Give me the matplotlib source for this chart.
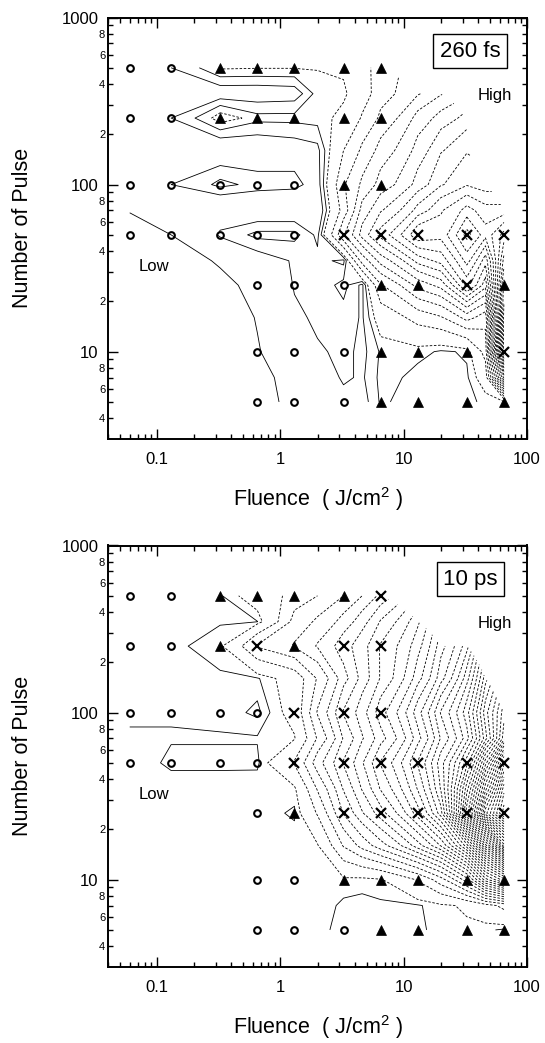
import numpy as np
import matplotlib.pyplot as plt

plt.rcParams['font.family'] = ['Liberation Sans', 'DejaVu Sans']
plt.rcParams['mathtext.fontset'] = 'custom'
plt.rcParams['mathtext.rm'] = 'Liberation Sans'

# measured points: fluence (J/cm2) and number of pulses
fluence = [0.06, 0.13, 0.325, 0.65, 1.3, 3.25, 6.5, 13, 32.5, 65]
pulses = [500, 250, 100, 50, 25, 10, 5]

# o = no damage, ^ = damage, x = crater ; '.' = not measured
marks_260fs = ["oo^^^^^...",
               "oo^^^^^...",
               "ooooo^^...",
               "oooooxxxxx",
               "...ooo^^x^",
               "...ooo^^^x",
               "...ooo^^^^"]
marks_10ps = ["oo^^^^x...",
              "oo^x^xx...",
              "ooooxxx...",
              "ooooxxxxxx",
              "...o^xxxxx",
              "...oo^^^^^",
              "...ooo^^^^"]

# contour grid (nan = blanked)
grid_fluence = [0.06, 0.13, 0.325, 0.65, 1.3, 2.0, 3.25, 4.6, 6.5, 13, 20, 32.5, 46, 65]
grid_pulses = [500, 350, 250, 160, 100, 70, 50, 35, 25, 16, 10, 7, 5]
M = np.nan
z_260fs = [
    [1.5, 2.0, 2.65, 2.62, 2.62, 2.62, 2.7, 3.3, 4.0, M, M, M, M, M],
    [1.5, 1.9, 1.75, 1.75, 1.8, 2.45, 2.5, 3.1, 4.2, 5.5, 6.5, M, M, M],
    [1.5, 2.0, 2.8, 2.4, 2.4, 2.45, 2.75, 3.7, 4.8, 7.0, 8.0, 9.0, M, M],
    [1.4, 1.8, 1.6, 1.7, 1.8, 1.9, 3.6, 4.8, 6.0, 8.0, 9.5, 10.5, M, M],
    [1.4, 2.0, 2.4, 2.15, 2.1, 1.8, 4.5, 5.8, 7.0, 9.0, 10.5, 11.5, 11.0, M],
    [1.05, 1.5, 1.5, 1.6, 1.6, 1.6, 4.0, 7.0, 8.5, 11.0, 12.5, 14.0, 13.0, 13.0],
    [0.6, 1.0, 2.1, 2.4, 2.4, 1.9, 5.5, 8.0, 10.0, 13.5, 13.0, 16.0, 14.0, 16.0],
    [0.4, 0.7, 1.1, 1.8, 2.05, 2.1, 1.9, 5.0, 7.0, 10.0, 11.0, 14.0, 11.0, 18.0],
    [0.2, 0.4, 0.8, 1.3, 2.05, 2.15, 2.4, 1.9, 4.5, 7.0, 8.0, 12.0, 9.0, 20.0],
    [0.1, 0.2, 0.6, 1.05, 1.9, 2.1, 2.2, 1.95, 3.0, 4.0, 4.5, 6.0, 5.0, 21.0],
    [0.0, 0.1, 0.4, 0.95, 1.7, 1.95, 2.1, 1.9, 2.35, 2.4, 2.25, 2.35, 4.0, 21.0],
    [0.0, 0.0, 0.3, 0.7, 1.5, 1.8, 2.05, 1.95, 2.4, 2.2, 2.15, 2.25, 3.0, 13.0],
    [0.0, 0.0, 0.2, 0.6, 1.4, 1.7, 1.9, 1.85, 2.35, 2.1, 2.15, 2.2, 2.4, 2.5],
]
z_10ps = [
    [1.9, 1.9, 1.92, 2.6, 3.6, 4.2, 5.2, 6.2, 7.5, M, M, M, M, M],
    [1.9, 1.9, 1.92, 1.94, 4.6, 5.4, 6.6, 7.8, 9.3, 12.0, M, M, M, M],
    [1.9, 1.9, 2.1, 4.3, 5.3, 6.3, 7.8, 8.8, 10.3, 12.8, 15.8, 18.8, M, M],
    [1.9, 1.9, 1.91, 1.92, 2.6, 4.3, 6.8, 8.6, 10.3, 13.8, 16.8, 20.8, 25.8, M],
    [1.92, 1.92, 1.88, 1.75, 2.5, 5.3, 8.3, 9.8, 11.8, 15.8, 19.3, 22.8, 27.8, 31.8],
    [1.97, 1.97, 1.97, 1.97, 2.15, 4.3, 7.3, 9.1, 10.8, 14.8, 18.3, 21.8, 26.8, 32.8],
    [2.05, 1.9, 1.9, 1.9, 3.3, 5.8, 8.3, 10.1, 12.3, 16.3, 19.8, 24.8, 31.8, 39.8],
    [2.05, 2.05, 2.05, 2.06, 2.1, 4.3, 7.3, 9.3, 11.3, 15.3, 19.3, 27.8, 35.8, 43.8],
    [2.05, 2.05, 2.05, 2.05, 1.9, 3.3, 6.3, 8.1, 9.8, 13.8, 17.8, 29.8, 39.8, 45.8],
    [2.05, 2.05, 2.05, 2.05, 2.08, 2.15, 4.3, 5.6, 6.8, 9.8, 12.3, 17.8, 25.8, 33.8],
    [2.05, 2.05, 2.05, 2.05, 2.05, 2.07, 2.1, 2.05, 2.15, 3.3, 4.8, 7.8, 12.8, 15.8],
    [2.05, 2.05, 2.05, 2.05, 2.05, 2.05, 1.9, 1.88, 1.9, 1.92, 2.1, 2.3, 2.8, 3.5],
    [2.05, 2.05, 2.05, 2.05, 2.05, 2.0, 1.88, 1.85, 1.88, 1.9, 2.05, 2.1, 2.0, 1.9],
]

solid_260fs = [1, 2, 2.3]
dashed_260fs = [2.6 + k for k in range(21)]
solid_10ps = [1.8, 1.95]
dashed_10ps = [2.2 + k for k in range(44)]

y_major = [10, 100, 1000]
y_minor = [4, 5, 6, 7, 8, 9] + [d * 10 for d in range(2, 10)] + [d * 100 for d in range(2, 10)]
x_minor = [d * s for s in (0.01, 0.1, 1, 10) for d in range(2, 10) if 0.04 <= d * s <= 100]


def draw_panel(ax, marks, z, solid, dashed, tag):
    ax.set_xscale('log')
    ax.set_yscale('log')
    ax.set_xlim(0.04, 100)
    ax.set_ylim(3, 1000)

    zz = np.ma.masked_invalid(np.array(z))
    cs = ax.contour(grid_fluence, grid_pulses, zz, levels=solid, colors='k', linewidths=0.6)
    cs.set_linestyle('solid')
    cd = ax.contour(grid_fluence, grid_pulses, zz, levels=dashed, colors='k', linewidths=0.6)
    cd.set_linestyle((0, (3, 2)))

    pts = {'o': ([], []), '^': ([], []), 'x': ([], [])}
    for i, row in enumerate(marks):
        for j, m in enumerate(row):
            if m in pts:
                pts[m][0].append(fluence[j])
                pts[m][1].append(pulses[i])
    ax.plot(*pts['o'], 'o', ms=4.8, mfc='none', mec='k', mew=1.5, zorder=4)
    ax.plot(*pts['^'], '^', ms=7.0, mfc='k', mec='k', mew=0.5, zorder=4)
    ax.plot(*pts['x'], 'x', ms=6.5, mec='k', mew=1.6, zorder=4)

    ax.set_xticks([0.1, 1, 10, 100], ['0.1', '1', '10', '100'])
    ax.set_xticks(x_minor, minor=True)
    ax.set_xticklabels([], minor=True)
    ax.set_yticks(y_major, ['10', '100', '1000'])
    ylab = [str(v)[0] if str(v)[0] in '2468' else '' for v in y_minor]
    ax.set_yticks(y_minor, ylab, minor=True)

    ax.tick_params(which='both', direction='in', top=True, right=True, width=1.0)
    ax.tick_params(which='major', length=7, labelsize=12)
    ax.tick_params(axis='x', which='major', pad=9)
    ax.tick_params(axis='y', which='major', pad=7)
    ax.tick_params(which='minor', length=3.5, labelsize=8, pad=2)
    for s in ax.spines.values():
        s.set_linewidth(1.4)

    ax.set_ylabel('Number of Pulse', fontsize=15.5)
    ax.yaxis.set_label_coords(-0.178, 0.5)
    ax.set_xlabel('Fluence  ( J/cm$^{\\mathrm{2}}$ )', fontsize=15.5)
    ax.xaxis.label.set_va('center')
    ax.xaxis.set_label_coords(0.5, -0.143)

    ax.text(0.865, 0.92, tag, transform=ax.transAxes, ha='center', va='center', fontsize=16,
            bbox=dict(boxstyle='square,pad=0.3', fc='white', ec='k', lw=1.0), zorder=5)
    ax.text(0.924, 0.816, 'High', transform=ax.transAxes, ha='center', va='center', fontsize=12)
    ax.text(0.109, 0.41, 'Low', transform=ax.transAxes, ha='center', va='center', fontsize=12)


fig = plt.figure(figsize=(5.45, 10.43), dpi=100)
ax1 = fig.add_axes([108 / 545, 1 - 439 / 1043, 419 / 545, 421.5 / 1043])
ax2 = fig.add_axes([108 / 545, 1 - 967 / 1043, 419 / 545, 421.5 / 1043])

draw_panel(ax1, marks_260fs, z_260fs, solid_260fs, dashed_260fs, '260 fs')
draw_panel(ax2, marks_10ps, z_10ps, solid_10ps, dashed_10ps, '10 ps')

fig.savefig('out.png', dpi=100)
